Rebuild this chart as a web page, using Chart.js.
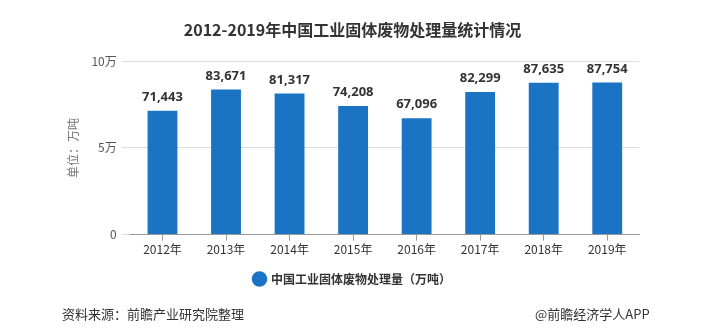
<!DOCTYPE html>
<html>
<head>
<meta charset="utf-8">
<script src="https://cdn.jsdelivr.net/npm/chart.js@4/dist/chart.umd.min.js"></script>
<style>
  html, body { margin: 0; padding: 0; background: #fff; }
  #wrap { position: relative; width: 720px; height: 334px; }
  .foot { position: absolute; top: 304px; font: 13px "Noto Sans CJK SC", sans-serif; color: #333; }
</style>
</head>
<body>
<div id="wrap">
  <canvas id="chart"></canvas>
  <div class="foot" style="left:62px">资料来源：前瞻产业研究院整理</div>
  <div class="foot" style="left:535px">@前瞻经济学人APP</div>
</div>
<script>
// 年份与处理量（万吨）
const years = ['2012年', '2013年', '2014年', '2015年', '2016年', '2017年', '2018年', '2019年'];
const amounts = [71443, 83671, 81317, 74208, 67096, 82299, 87635, 87754];
const yTicks = [0, 50000, 100000];
const seriesName = '中国工业固体废物处理量（万吨）';

const cjk = '"Noto Sans CJK SC", "Noto Sans", sans-serif';
const barColor = '#1a74c3';

// 柱顶数值标签
const valueLabels = {
    id: 'valueLabels',
    afterDatasetsDraw(chart) {
        const ctx = chart.ctx;
        const meta = chart.getDatasetMeta(0);
        ctx.save();
        ctx.font = 'bold 13px "Noto Sans", sans-serif';
        ctx.fillStyle = '#333';
        ctx.textAlign = 'center';
        ctx.textBaseline = 'bottom';
        meta.data.forEach((bar, i) => {
            ctx.fillText(amounts[i].toLocaleString('en-US'), bar.x, bar.y - 7);
        });
        ctx.restore();
    }
};

const canvas = document.getElementById('chart');
new Chart(canvas, {
    type: 'bar',
    data: {
        labels: years,
        datasets: [{
            label: seriesName,
            data: amounts,
            backgroundColor: barColor,
            barPercentage: 0.47,
            categoryPercentage: 1
        }]
    },
    options: {
        responsive: true,
        maintainAspectRatio: false,
        animation: false,
        layout: {
            padding: { left: 66, right: 81, top: 0, bottom: 39 }
        },
        scales: {
            x: {
                grid: {
                    offset: false,
                    drawOnChartArea: false,
                    drawTicks: true,
                    tickLength: 6,
                    color: '#999'
                },
                border: { color: '#999' },
                ticks: {
                    color: '#333',
                    padding: 2,
                    font: { family: cjk, size: 12 }
                }
            },
            y: {
                min: 0,
                max: 100000,
                afterBuildTicks(axis) {
                    axis.ticks = yTicks.map(v => ({ value: v }));
                },
                grid: {
                    color: '#ddd',
                    tickLength: 9
                },
                border: { display: false },
                ticks: {
                    color: '#555',
                    padding: 5,
                    font: { family: cjk, size: 12 },
                    callback: v => v === 0 ? '0' : (v / 10000) + '万'
                },
                title: {
                    display: true,
                    text: '单位：万吨',
                    color: '#777',
                    padding: { top: 0, bottom: 6 },
                    font: { family: cjk, size: 12 }
                }
            }
        },
        plugins: {
            title: {
                display: true,
                text: '2012-2019年中国工业固体废物处理量统计情况',
                color: '#333',
                padding: { top: 20, bottom: 22 },
                font: { family: cjk, size: 16, weight: 'bold' }
            },
            legend: {
                position: 'bottom',
                labels: {
                    usePointStyle: true,
                    pointStyle: 'circle',
                    boxWidth: 11,
                    boxHeight: 11,
                    color: '#333',
                    padding: 14,
                    font: { family: cjk, size: 12, weight: 'bold' }
                }
            },
            tooltip: { enabled: false }
        }
    },
    plugins: [valueLabels]
});
</script>
</body>
</html>
